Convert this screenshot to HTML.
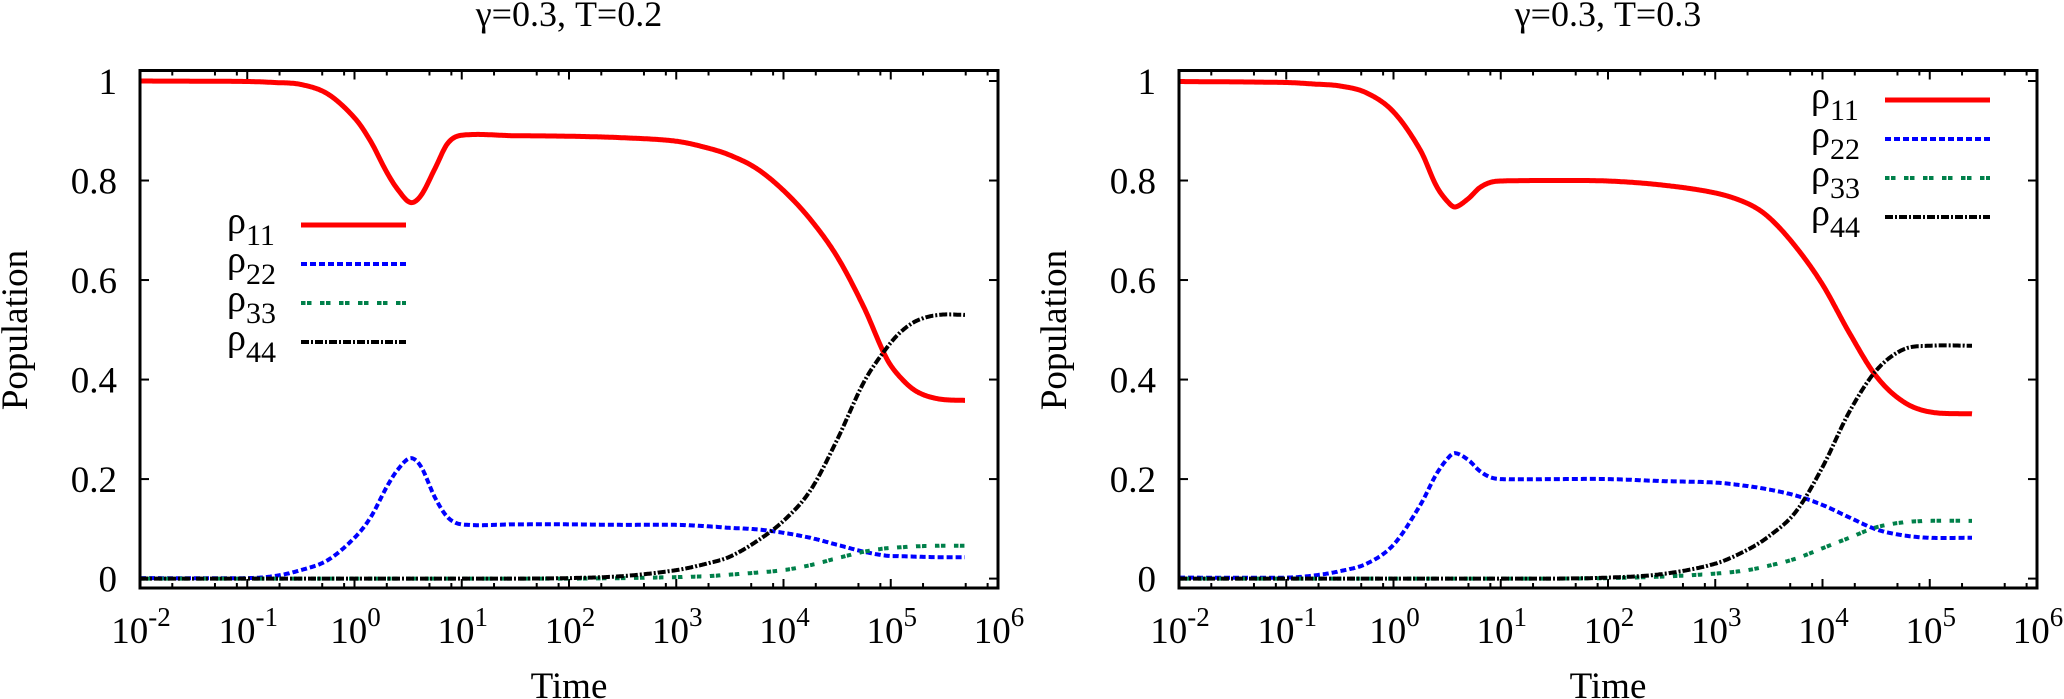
<!DOCTYPE html>
<html><head><meta charset="utf-8"><style>
html,body{margin:0;padding:0;background:#fff;}
svg{display:block;font-family:"Liberation Serif","Times New Roman",serif;}
svg text{font-family:"Liberation Serif","Times New Roman",serif;fill:#000;}
</style></head><body>
<svg id="fig" width="2064" height="699" viewBox="0 0 2064 699" font-family="Liberation Serif, serif" xmlns="http://www.w3.org/2000/svg"></svg>
<script>
// ---- shared axis data ----
const xTickExponents = [-2,-1,0,1,2,3,4,5,6];
const yTickValues = [0,0.2,0.4,0.6,0.8,1];
const yTickLabels = ["0","0.2","0.4","0.6","0.8","1"];
const legendLabels = ["11","22","33","44"];
const titleA = "γ=0.3,  T=0.2";
const titleB = "γ=0.3,  T=0.3";

// ---- left panel (gamma=0.3, T=0.2) ----
const A_logT = [-2,-1,-0.75,-0.5,-0.25,0,0.15,0.3,0.4,0.52,0.62,0.75,0.87,1.0,1.5,2,2.5,3,3.3,3.5,3.75,4,4.25,4.5,4.75,4.96,5.1,5.25,5.45,5.7];
const A_p11 = [1.0,0.999,0.997,0.993,0.974,0.926,0.879,0.817,0.783,0.756,0.770,0.824,0.875,0.891,0.890,0.889,0.886,0.879,0.865,0.851,0.824,0.780,0.722,0.647,0.545,0.443,0.402,0.375,0.361,0.358];
const A_p22 = [0.001,0.001,0.005,0.017,0.037,0.082,0.123,0.184,0.218,0.242,0.225,0.163,0.123,0.109,0.109,0.109,0.108,0.108,0.105,0.102,0.099,0.092,0.082,0.068,0.054,0.046,0.045,0.044,0.043,0.043];
const A_p33 = [0,0,0,0,0,0,0,0,0,0,0,0,0,0,0,0,0.001,0.003,0.005,0.008,0.012,0.017,0.027,0.041,0.054,0.061,0.063,0.065,0.066,0.066];
const A_p44 = [0,0,0,0,0,0,0,0,0,0,0,0,0,0,0,0.001,0.005,0.017,0.031,0.044,0.075,0.116,0.177,0.279,0.395,0.463,0.497,0.519,0.530,0.530];

// ---- right panel (gamma=0.3, T=0.3) ----
const B_logT = [-2,-1,-0.75,-0.5,-0.25,0,0.25,0.4,0.52,0.58,0.7,0.8,0.9,1.0,1.5,2,2.5,3,3.3,3.5,3.75,4,4.25,4.5,4.75,5,5.4];
const B_p11 = [0.999,0.997,0.994,0.99,0.976,0.938,0.861,0.789,0.754,0.747,0.764,0.785,0.796,0.799,0.800,0.799,0.791,0.775,0.754,0.726,0.667,0.591,0.494,0.407,0.356,0.335,0.331];
const B_p22 = [0.002,0.002,0.006,0.015,0.03,0.068,0.148,0.21,0.245,0.252,0.238,0.217,0.204,0.200,0.200,0.200,0.196,0.193,0.186,0.179,0.167,0.148,0.123,0.099,0.087,0.082,0.082];
const B_p33 = [0,0,0,0,0,0,0,0,0,0,0,0,0,0,0,0.001,0.004,0.010,0.017,0.026,0.040,0.061,0.082,0.103,0.113,0.116,0.116];
const B_p44 = [0,0,0,0,0,0,0,0,0,0,0,0,0,0,0,0.002,0.009,0.030,0.058,0.085,0.134,0.224,0.335,0.418,0.460,0.468,0.468];

const NS = "http://www.w3.org/2000/svg";
const svg = document.getElementById('fig');
function mk(tag, attrs, parent){
  const e = document.createElementNS(NS, tag);
  for (const k in attrs) e.setAttribute(k, attrs[k]);
  (parent||svg).appendChild(e);
  return e;
}
const FONT = '"Liberation Serif", serif';
const styles = [
  {color:"#ff0000", w:5, dash:""},
  {color:"#0000ff", w:4, dash:"6 3"},
  {color:"#00804a", w:4, dash:"4.5 1.5 4.5 8.5"},
  {color:"#000000", w:4, dash:"8 2 2 2"}
];

function smooth(xs, ys){
  const n = xs.length, m = [];
  for (let i=0;i<n;i++){
    if (i===0) m[i]=(ys[1]-ys[0])/(xs[1]-xs[0]);
    else if (i===n-1) m[i]=(ys[n-1]-ys[n-2])/(xs[n-1]-xs[n-2]);
    else m[i]=(ys[i+1]-ys[i-1])/(xs[i+1]-xs[i-1]);
  }
  return function(x){
    let i=0; while(i<n-2 && x>xs[i+1]) i++;
    const h=xs[i+1]-xs[i], t=(x-xs[i])/h, t2=t*t, t3=t2*t;
    return (2*t3-3*t2+1)*ys[i]+(t3-2*t2+t)*h*m[i]+(-2*t3+3*t2)*ys[i+1]+(t3-t2)*h*m[i+1];
  };
}
function txt(attrs, parent){ attrs['font-family']=FONT; return mk('text', attrs, parent); }

function panel(cfg){
  const g = mk('g', {});
  
  
  const L=cfg.left, R=cfg.left+858, T=70.5, B=588;
  const xs = lg => L + (lg+2)*(R-L)/8;
  const ys = v => 578.6 - v*497.6;
  const tt = txt({x:(L+R)/2, y:26, 'font-size':36, 'text-anchor':'middle'}, g);
   
  tt.textContent = cfg.title;
  const tg = mk('g', {stroke:'#000','stroke-width':2}, g);
   
  xTickExponents.forEach((e,i)=>{
    const x = xs(e);
    mk('line',{x1:x,x2:x,y1:B,y2:B-9},tg); mk('line',{x1:x,x2:x,y1:T,y2:T+9},tg);
    if (i<xTickExponents.length-1){
      [2,5,8].forEach(k=>{ const xm = xs(e+Math.log10(k));
        mk('line',{x1:xm,x2:xm,y1:B,y2:B-5},tg); mk('line',{x1:xm,x2:xm,y1:T,y2:T+5},tg); });
    }
    const lab = txt({x:x+1,y:643,'font-size':37,'text-anchor':'middle'},g);
     
    const t1 = mk('tspan',{},lab); t1.textContent='10';
    const t2 = mk('tspan',{dy:-17,'font-size':27},lab); t2.textContent=String(e);
  });
  const yg = mk('g', {stroke:'#000','stroke-width':2}, g);
   
  yTickValues.forEach((v,i)=>{
    const y = ys(v);
    mk('line',{x1:L,x2:L+9,y1:y,y2:y},yg); mk('line',{x1:R,x2:R-9,y1:y,y2:y},yg);
    const lab = txt({x:L-23,y:y+13,'font-size':37,'text-anchor':'end'},g);
     
    lab.textContent = yTickLabels[i];
  });
  const yl = txt({x:0,y:0,'font-size':37,'text-anchor':'middle',transform:`translate(${L-113},330) rotate(-90)`},g);
   
  yl.textContent='Population';
  const xl = txt({x:(L+R)/2,y:698,'font-size':37,'text-anchor':'middle'},g);
   
  xl.textContent='Time';
  cfg.series.forEach((vals,si)=>{
    const f = smooth(cfg.logT, vals);
    const last = cfg.logT[cfg.logT.length-1];
    const x0 = xs(cfg.logT[0]), x1 = xs(last);
    let d='';
    for (let px=x0; px<=x1+0.01; px+=1){
      const lg = Math.min(-2 + (px-L)*8/(R-L), last);
      d += (d?'L':'M') + px.toFixed(1) + ',' + ys(Math.max(0,f(lg))).toFixed(1);
    }
    const p = mk('path',{d:d,fill:'none',stroke:styles[si].color,'stroke-width':styles[si].w,'stroke-dasharray':styles[si].dash,'stroke-linejoin':'round'},g);
    
    
  });
  const fr = mk('rect',{x:L,y:T,width:R-L,height:B-T,fill:'none',stroke:'#000','stroke-width':3},g);
   
  const lgG = mk('g',{},g);
   
  legendLabels.forEach((lab,i)=>{
    const y = cfg.legY + i*39;
    const tx = txt({x:cfg.legX,y:y+8,'font-size':38},lgG);
     
    const a = mk('tspan',{},tx); a.textContent='ρ';
    const b = mk('tspan',{dy:12,'font-size':30},tx); b.textContent=lab;
    const ln = mk('line',{x1:cfg.legX+74,x2:cfg.legX+179,y1:y,y2:y,stroke:styles[i].color,'stroke-width':styles[i].w,'stroke-dasharray':styles[i].dash},lgG);
     
  });
}
panel({name:'panel-t02', left:140, title:titleA, logT:A_logT, series:[A_p11,A_p22,A_p33,A_p44], legX:227, legY:225});
panel({name:'panel-t03', left:1179, title:titleB, logT:B_logT, series:[B_p11,B_p22,B_p33,B_p44], legX:1811, legY:100});
</script>
</body></html>
